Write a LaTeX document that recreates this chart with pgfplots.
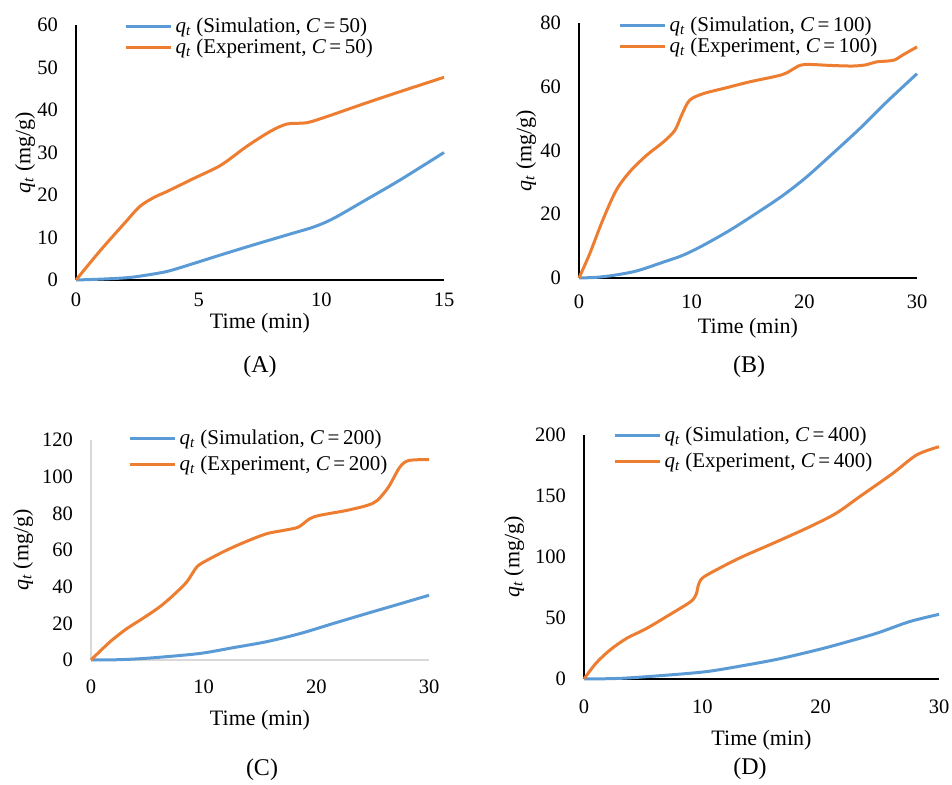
\documentclass[border=0pt]{standalone}
\usepackage{pgfplots}
\pgfplotsset{compat=1.18}
\usepackage{fontspec}
\setmainfont{Liberation Serif}
\definecolor{exblue}{HTML}{5B9BD5}
\definecolor{exorange}{HTML}{ED7D31}
\definecolor{lightax}{HTML}{D9D9D9}
\newcommand{\qt}{\textit{q}\textsubscript{\textit{t}}}
\pgfplotsset{
  panel/.style={
    scale only axis,
    axis lines=left,
    axis line style={-, line width=1.3pt, black},
    xmin=0, ymin=0,
    clip=false,
    major tick length=0pt,
    tick label style={font=\fontsize{20.5}{24}\selectfont, inner sep=0pt},
    /pgf/number format/assume math mode=true,
    label style={font=\fontsize{22}{26}\selectfont},
    legend style={draw=none, fill=none, font=\fontsize{21}{24}\selectfont,
      at={(axis description cs:0,1)}, anchor=north west, inner sep=0pt,
      nodes={inner sep=1pt}, row sep=3pt, column sep=2.5pt},
    legend cell align=left,
    legend image code/.code={\draw[##1] (0pt,0pt) -- (45pt,0pt);},
    every axis plot/.append style={line width=3pt, smooth},
    yticklabel style={xshift=-18pt},
  },
}
\begin{document}
\begin{tikzpicture}
\useasboundingbox (0,0) rectangle (952pt,784pt);
% ---------- (A)
\begin{axis}[panel, at={(76pt,504pt)}, anchor=south west,
  width=368pt, height=255pt, xmax=15, ymax=60,
  xtick={0,5,10,15}, ytick={0,10,...,60},
  xticklabel style={yshift=-13pt},
  xlabel={Time (min)}, ylabel={\qt\ (mg/g)},
  xlabel style={at={([yshift=-43pt]axis description cs:0.5,0)}, anchor=center},
  ylabel style={at={([xshift=-51pt]axis description cs:0,0.5)}, anchor=center},
  legend style={xshift=48pt, yshift=8pt}]
\addplot[exblue] coordinates {(0,0) (1,0.2) (2,0.5) (2.6,0.9) (3.7,2.0) (4.8,3.9) (5.9,5.9) (7.2,8.2) (8.6,10.6) (9.7,12.5) (10.5,14.5) (11.8,18.8) (13.2,23.5) (15,30)};
\addlegendentry{\qt\ (Simulation, \textit{C}\,=\,50)}
\addplot[exorange] coordinates {(0,0) (1,7) (2,13.5) (2.6,17.3) (3.2,19.5) (3.7,20.8) (4.8,23.9) (5.9,27) (6.95,31.4) (7.9,34.9) (8.6,36.7) (9.4,37.0) (10.2,38.4) (11.8,41.6) (13.2,44.3) (15,47.7)};
\addlegendentry{\qt\ (Experiment, \textit{C}\,=\,50)}
\end{axis}
% ---------- (B)
\begin{axis}[panel, at={(579pt,506pt)}, anchor=south west,
  width=338pt, height=255pt, xmax=30, ymax=80,
  xtick={0,10,20,30}, ytick={0,20,...,80},
  xticklabel style={yshift=-17pt},
  xlabel={Time (min)}, ylabel={\qt\ (mg/g)},
  xlabel style={at={([yshift=-50pt]axis description cs:0.5,0)}, anchor=center},
  ylabel style={at={([xshift=-53pt]axis description cs:0,0.5)}, anchor=center},
  legend style={xshift=39pt, yshift=7pt}]
\addplot[exblue] coordinates {(0,0) (1.5,0.2) (3.0,0.8) (5.1,2.2) (7.5,5.0) (9.2,7.1) (11.0,10.2) (13.4,15.0) (15.7,20.2) (18.1,25.9) (20.2,31.7) (22.5,39.0) (24.9,46.8) (27.3,55.2) (30,64.1)};
\addlegendentry{\qt\ (Simulation, \textit{C}\,=\,100)}
\addplot[exorange] coordinates {(0,0) (0.95,7.6) (2.1,18.1) (3.3,27.5) (4.5,33.3) (6.0,38.5) (7.5,42.7) (8.5,46.3) (9.1,51.0) (9.8,55.7) (11.0,57.8) (13.1,59.7) (15.1,61.5) (17.5,63.3) (18.4,64.3) (19.6,66.7) (20.5,67.0) (22.2,66.7) (24.3,66.5) (25.5,66.9) (26.4,67.8) (27.9,68.3) (28.8,70.1) (30,72.5)};
\addlegendentry{\qt\ (Experiment, \textit{C}\,=\,100)}
\end{axis}
% ---------- (C)
\begin{axis}[panel, at={(91pt,124pt)}, anchor=south west,
  width=338pt, height=220pt, xmax=30, ymax=120,
  axis line style={-, line width=1.3pt, lightax},
  xtick={0,10,20,30}, ytick={0,20,...,120},
  xticklabel style={yshift=-20pt},
  xlabel={Time (min)}, ylabel={\qt\ (mg/g)},
  xlabel style={at={([yshift=-60pt]axis description cs:0.5,0)}, anchor=center},
  ylabel style={at={([xshift=-68pt]axis description cs:0,0.5)}, anchor=center},
  legend style={xshift=37pt, yshift=11pt, row sep=8pt}]
\addplot[exblue] coordinates {(0,0) (2,0.1) (3.8,0.5) (6.1,1.5) (9.7,3.6) (12.6,6.7) (15.6,10.0) (18.6,14.5) (21.5,19.9) (24.5,25.4) (27.4,30.6) (30,35.3)};
\addlegendentry{\qt\ (Simulation, \textit{C}\,=\,200)}
\addplot[exorange] coordinates {(0,0) (1.7,10.0) (3.2,17.2) (4.6,22.7) (6.1,29.0) (7.3,35.3) (8.5,42.6) (9.4,50.8) (10.3,54.4) (12.0,59.8) (13.8,64.7) (15.6,68.9) (17.1,70.7) (18.4,72.5) (19.4,77.0) (20.3,78.9) (22.7,81.6) (24.5,84.3) (25.4,87.0) (26.4,94.3) (27.4,105.1) (28.2,108.8) (30,109.3)};
\addlegendentry{\qt\ (Experiment, \textit{C}\,=\,200)}
\end{axis}
% ---------- (D)
\begin{axis}[panel, at={(584pt,105pt)}, anchor=south west,
  width=355pt, height=244pt, xmax=30, ymax=200,
  xtick={0,10,20,30}, ytick={0,50,...,200},
  xticklabel style={yshift=-21pt},
  xlabel={Time (min)}, ylabel={\qt\ (mg/g)},
  xlabel style={at={([yshift=-61pt]axis description cs:0.5,0)}, anchor=center},
  ylabel style={at={([xshift=-70pt]axis description cs:0,0.5)}, anchor=center},
  legend style={xshift=29pt, yshift=9pt, row sep=8pt}]
\addplot[exblue] coordinates {(0,0) (3.0,0.5) (6.4,2.7) (10.3,6.0) (13.4,10.9) (16.3,16.1) (19.1,22.4) (21.3,27.9) (24.7,37.4) (27.5,47.0) (30,53.0)};
\addlegendentry{\qt\ (Simulation, \textit{C}\,=\,400)}
\addplot[exorange] coordinates {(0,0) (1.0,12.8) (2.2,23.8) (3.6,33.3) (5.3,41.5) (7.2,52.5) (8.6,60.7) (9.2,65) (9.5,70) (9.7,78) (10.1,83.5) (11.7,92.1) (13.4,100.3) (16.3,112.6) (19.1,124.9) (21.3,135.8) (23.3,149.5) (26.1,168.6) (28.1,183.6) (30,190.4)};
\addlegendentry{\qt\ (Experiment, \textit{C}\,=\,400)}
\end{axis}
% panel labels
\node[font=\fontsize{24}{28}\selectfont] at (260pt,417pt) {(A)};
\node[font=\fontsize{24}{28}\selectfont] at (749pt,417pt) {(B)};
\node[font=\fontsize{24}{28}\selectfont] at (262pt,14pt) {(C)};
\node[font=\fontsize{24}{28}\selectfont] at (750pt,15pt) {(D)};
\end{tikzpicture}
\end{document}
